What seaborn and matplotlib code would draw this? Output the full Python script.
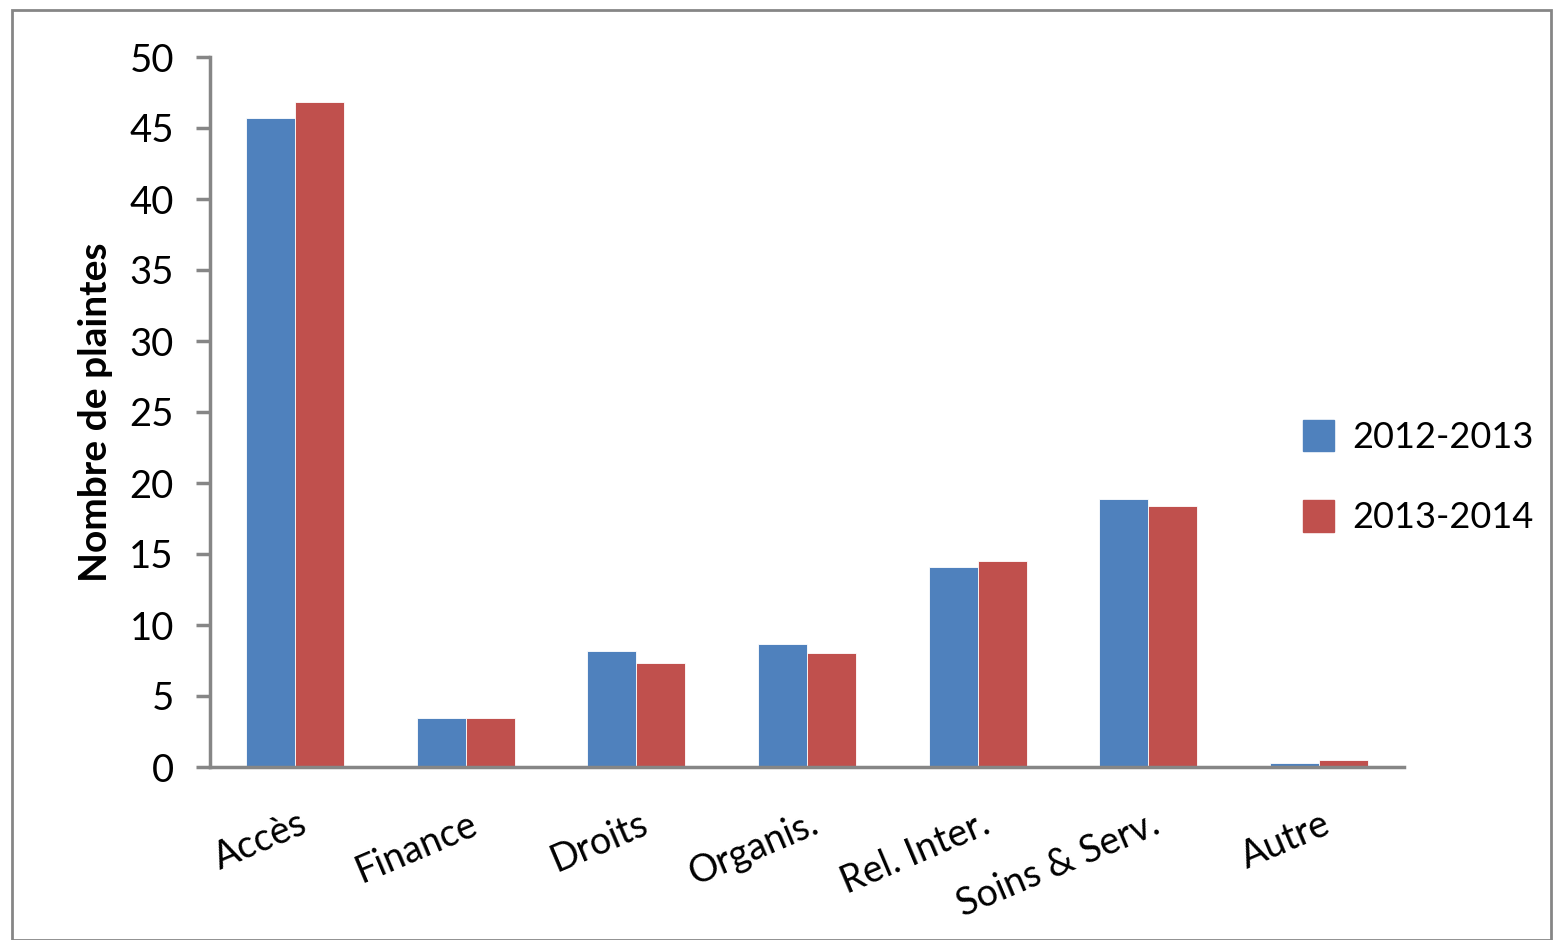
import matplotlib
matplotlib.use("Agg")
import matplotlib.pyplot as plt
import matplotlib.patches as mpatches
import matplotlib.transforms as mtransforms
import seaborn as sns
import pandas as pd

categories = ["Accès", "Finance", "Droits", "Organis.", "Rel. Inter.", "Soins & Serv.", "Autre"]
series_names = ["2012-2013", "2013-2014"]
values_2012 = [45.7, 3.45, 8.2, 8.65, 14.1, 18.9, 0.25]
values_2013 = [46.8, 3.45, 7.3, 8.0, 14.5, 18.4, 0.47]
y_ticks = [0, 5, 10, 15, 20, 25, 30, 35, 40, 45, 50]
colors = ["#4F81BD", "#C0504D"]

df = pd.DataFrame({
    "cat": categories * 2,
    "period": [series_names[0]] * len(categories) + [series_names[1]] * len(categories),
    "val": values_2012 + values_2013,
})

sns.set_theme(style="white")
plt.rcParams["font.family"] = ["Lato", "DejaVu Sans"]
plt.rcParams["text.color"] = "black"
plt.rcParams["axes.labelcolor"] = "black"
plt.rcParams["xtick.color"] = "black"
plt.rcParams["ytick.color"] = "black"

fig = plt.figure(figsize=(15.54, 9.4), dpi=100)
ax = fig.add_axes([210 / 1554, 1 - 767 / 940, (1404 - 210) / 1554, (767 - 57) / 940])

sns.barplot(data=df, x="cat", y="val", hue="period", palette=colors,
            width=0.575, ax=ax, legend=False, saturation=1,
            edgecolor="white", linewidth=0.6)

ax.set_ylim(0, 50)
ax.set_xlim(-0.5, len(categories) - 0.5)
ax.set_yticks(y_ticks)
ax.set_yticklabels([str(t) for t in y_ticks], fontsize=27.5)
ax.tick_params(axis="y", length=10, width=2.5, color="#868686", labelcolor="black",
               pad=16, left=True)
ax.tick_params(axis="x", length=0, pad=12, labelcolor="black")
for side in ["top", "right"]:
    ax.spines[side].set_visible(False)
for side in ["left", "bottom"]:
    ax.spines[side].set_color("#868686")
    ax.spines[side].set_linewidth(2.5)

ax.set_xlabel("")
ax.set_ylabel("Nombre de plaintes", fontsize=28, fontweight="bold", labelpad=12)
ax.set_xticks(range(len(categories)))
ax.set_xticklabels(categories, fontsize=27, rotation=23, ha="right",
                   rotation_mode="anchor")
shift = mtransforms.ScaledTranslation(0.03, -0.22, fig.dpi_scale_trans)
for lbl in ax.get_xticklabels():
    lbl.set_transform(lbl.get_transform() + shift)

handles = [mpatches.Patch(color=c, label=n) for c, n in zip(colors, series_names)]
fig.legend(handles=handles, loc="center left", bbox_to_anchor=(1303 / 1554, 1 - 477 / 940),
           frameon=False, fontsize=26, handlelength=0.85, handleheight=0.95,
           handletextpad=0.5, labelspacing=1.3, borderpad=0, borderaxespad=0)

# outer chart border
fig.patches.append(mpatches.Rectangle((12 / 1554, 0), 1 - 12 / 1554 - 0.002, 1 - 10 / 940,
                                      transform=fig.transFigure, fill=False,
                                      edgecolor="#868686", linewidth=2))

fig.savefig("out.png", dpi=100)
